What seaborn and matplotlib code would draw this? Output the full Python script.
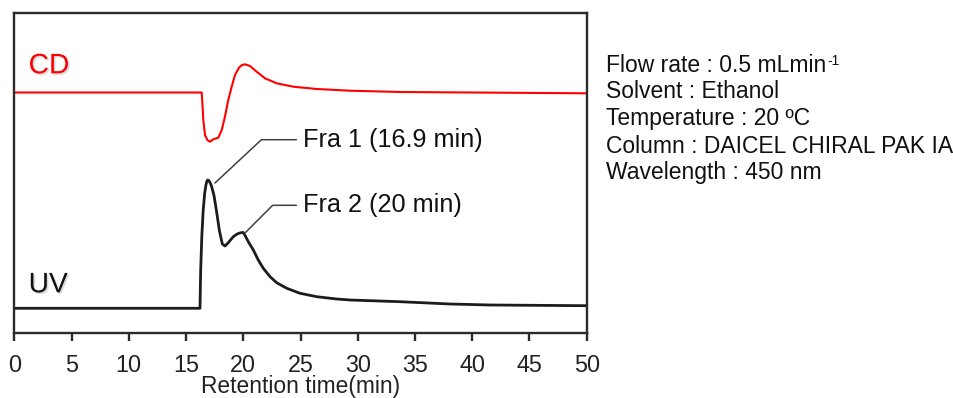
import numpy as np
import pandas as pd
import matplotlib
matplotlib.use("Agg")
import matplotlib.pyplot as plt
import matplotlib.patheffects as pe
import seaborn as sns

# Chiral HPLC chromatogram: retention time (min) vs. baseline-corrected response (a.u.)
uv_time = [0, 16.22, 16.28, 16.38, 16.5, 16.63, 16.75, 16.84, 16.9, 16.98, 17.08,
           17.22, 17.44, 17.68, 17.91, 18.17, 18.41, 18.69, 19.13, 19.45, 19.7,
           19.85, 20.0, 20.2, 20.44, 20.88, 21.31, 21.75, 22.34, 22.92, 23.80,
           24.96, 26.42, 28.16, 29.32, 33.69, 38.06, 41.55, 50]
uv_signal = [0, 0, 0.38, 0.72, 0.98, 1.15, 1.24, 1.275, 1.283, 1.278, 1.262,
             1.225, 1.13, 0.96, 0.78, 0.643, 0.623, 0.656, 0.716, 0.742, 0.753,
             0.757, 0.758, 0.72, 0.666, 0.583, 0.483, 0.40, 0.316, 0.256, 0.20,
             0.15, 0.116, 0.093, 0.083, 0.066, 0.043, 0.033, 0.026]

cd_time = [0, 16.37, 16.45, 16.51, 16.66, 16.86, 17.09, 17.38, 17.82, 18.12, 18.40,
           18.69, 18.99, 19.28, 19.65, 19.9, 20.15, 20.59, 21.17, 21.90, 22.92,
           24.37, 26.42, 29.32, 33.69, 50]
cd_signal = [0, 0, -0.15, -0.275, -0.425, -0.475, -0.492, -0.468, -0.452, -0.375,
             -0.242, -0.075, 0.058, 0.175, 0.252, 0.275, 0.282, 0.265, 0.208, 0.142,
             0.092, 0.058, 0.035, 0.018, 0.005, -0.008]

x_ticks = [0, 5, 10, 15, 20, 25, 30, 35, 40, 45, 50]
fraction_labels = ["Fra 1 (16.9 min)", "Fra 2 (20 min)"]
conditions = ["Flow rate : 0.5 mLmin", "Solvent : Ethanol", "Temperature : 20 ºC",
              "Column : DAICEL CHIRAL PAK IA", "Wavelength : 450 nm"]

# vertical stacking of the two detector traces
UV_OFFSET = 0.25
CD_OFFSET = 2.408

sns.set_theme(style="white")
plt.rcParams["font.family"] = ["Liberation Sans", "DejaVu Sans"]

W, H = 954, 398
fig = plt.figure(figsize=(W / 100, H / 100), dpi=100)
left, right, top, bottom = 14.3, 586.7, 12.7, 333.3
ax = fig.add_axes([left / W, 1 - bottom / H, (right - left) / W, (bottom - top) / H])

uv_df = pd.DataFrame({"time": uv_time, "signal": np.array(uv_signal) + UV_OFFSET})
cd_df = pd.DataFrame({"time": cd_time, "signal": np.array(cd_signal) + CD_OFFSET})

sns.lineplot(data=uv_df, x="time", y="signal", ax=ax, color="#1c1c1c", lw=2.0,
             sort=False, estimator=None)
sns.lineplot(data=cd_df, x="time", y="signal", ax=ax, color="#ff0000", lw=1.5,
             sort=False, estimator=None)
for ln in ax.lines:
    ln.set_solid_joinstyle("round")

ax.set_xlim(0, 50)
ax.set_ylim(0, 3.206)
ax.set_yticks([])
ax.set_xticks(x_ticks)
ax.set_xticklabels([str(t) for t in x_ticks])
ax.tick_params(axis="x", bottom=True, direction="out", length=6, width=1.7,
               pad=9, labelsize=16.8, colors="#2a2a2a", labelcolor="#222222")
for s in ax.spines.values():
    s.set_visible(True)
    s.set_linewidth(1.7)
    s.set_color("#2b2b2b")
ax.set_xlabel("Retention time(min)", fontsize=16.4, color="#222222", labelpad=-1.5)
ax.set_ylabel("")

shadow = [pe.withSimplePatchShadow(offset=(1.2, -1.2), shadow_rgbFace="#888888", alpha=0.3)]
ax.text(1.25, 2.60, "CD", color="#ff0000", fontsize=20.3, va="baseline", ha="left",
        path_effects=shadow)
ax.text(1.25, 0.41, "UV", color="#111111", fontsize=20.3, va="baseline", ha="left",
        path_effects=shadow)

# fraction labels with angled leader lines
leader = dict(arrowstyle="-", color="#404040", lw=1.1, relpos=(0, 0.5),
              patchA=None, shrinkA=5, shrinkB=0)
ax.annotate(fraction_labels[0], xy=(17.53, 1.503), xytext=(25.25, 1.866),
            fontsize=18.2, va="baseline", ha="left", color="#111111",
            arrowprops=dict(leader, connectionstyle="angle,angleA=0,angleB=43"))
ax.annotate(fraction_labels[1], xy=(20.15, 1.003), xytext=(25.25, 1.21),
            fontsize=18.2, va="baseline", ha="left", color="#111111",
            arrowprops=dict(leader, connectionstyle="angle,angleA=0,angleB=45"))

# run conditions
baselines = [71.7, 98.3, 125.0, 152.7, 179.3]
texts = []
for line, yb in zip(conditions, baselines):
    texts.append(fig.text(606 / W, 1 - yb / H, line, fontsize=16.5, va="baseline",
                          ha="left", color="#111111"))
ax.annotate("-1", xy=(1, 0), xycoords=texts[0], xytext=(0.6, 8.4),
            textcoords="offset points", fontsize=10, va="baseline", ha="left",
            color="#111111", annotation_clip=False)

fig.savefig("out.png", dpi=100)
